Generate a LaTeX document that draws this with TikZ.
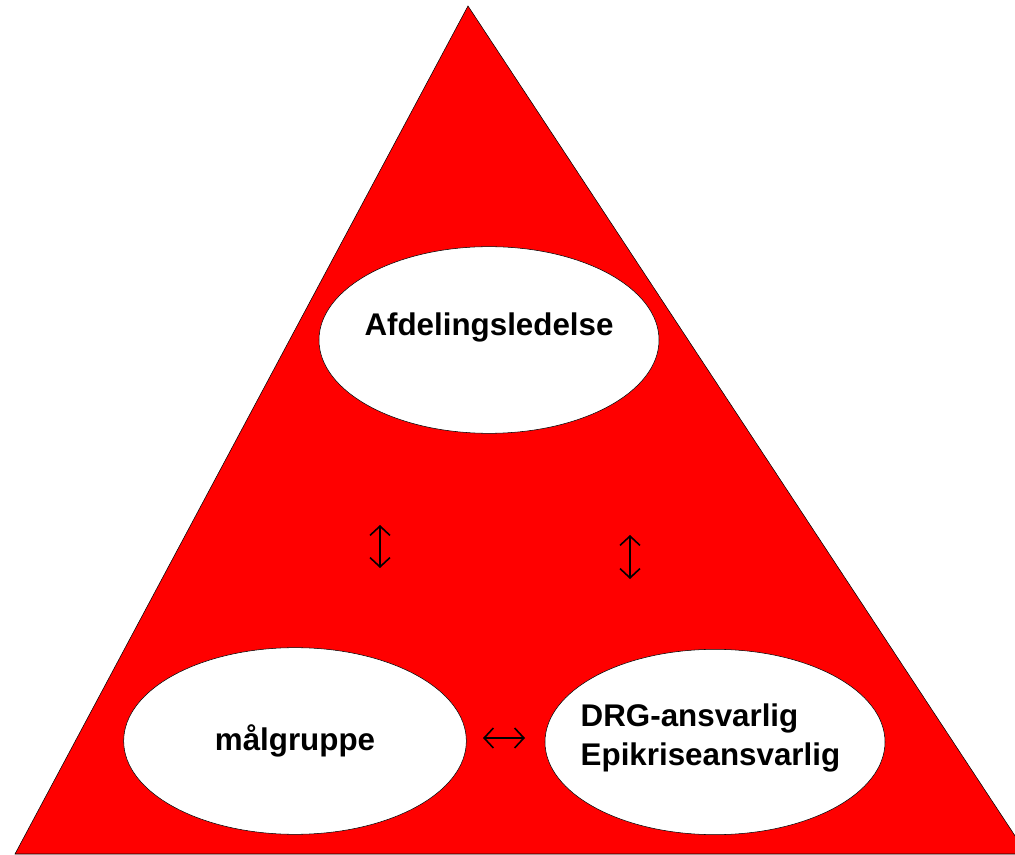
\documentclass[tikz,border=0pt]{standalone}
\usepackage{fontspec}
\setmainfont{Liberation Sans}
\usetikzlibrary{shapes.geometric}
\usetikzlibrary{arrows.meta}

\tikzset{
  blob/.style={ellipse,draw=black,fill=white,thin,inner sep=0pt},
  lbl/.style={font=\fontsize{23.5}{29}\selectfont\bfseries,text=black},
  dbl/.style={{Straight Barb[length=7pt,width=15pt,line width=1.2pt]}-{Straight Barb[length=7pt,width=15pt,line width=1.2pt]},black,line width=1pt}
}

\begin{document}
\begin{tikzpicture}[x=0.75pt,y=-0.75pt]
\useasboundingbox (0,0) rectangle (1015,855);
\clip (0,0) rectangle (1015,855);
\draw[fill=red,draw=black,thin] (468,6) -- (1027,854) -- (15,854) -- cycle;

\node[blob,minimum width=255pt,minimum height=140pt] (top) at (489,340) {};
\node[lbl] at (489,327) {Afdelingsledelse};

\node[blob,minimum width=257pt,minimum height=140pt] (left) at (295,741) {};
\node[lbl] at (295,741) {målgruppe};

\node[blob,minimum width=255pt,minimum height=139pt] (right) at (715,742) {};
\node[lbl,anchor=west,align=left] at (576,738) {DRG-ansvarlig\\Epikriseansvarlig};

\coordinate (a1) at (380,525);
\coordinate (a2) at (380,568);
\coordinate (b1) at (630,535);
\coordinate (b2) at (630,579);
\coordinate (c1) at (483,738);
\coordinate (c2) at (525,738);
\draw[dbl] (a1) -- (a2);
\draw[dbl] (b1) -- (b2);
\draw[dbl] (c1) -- (c2);

\end{tikzpicture}
\end{document}
